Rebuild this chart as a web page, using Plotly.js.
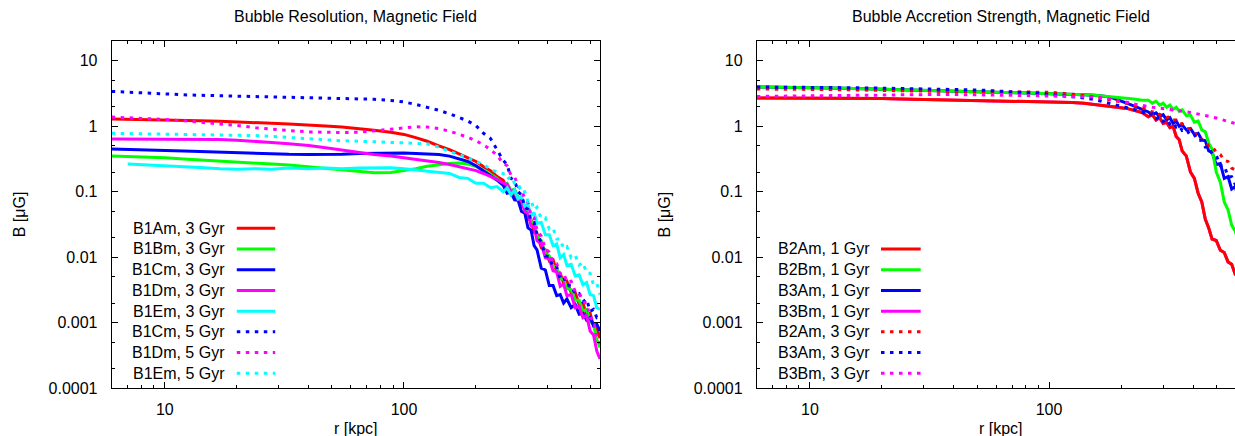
<!DOCTYPE html>
<html><head><meta charset="utf-8">
<script src="https://cdn.plot.ly/plotly-3.0.1.min.js"></script>
<style>html,body{margin:0;padding:0;overflow:hidden;background:#fff}#chart{width:1260px;height:436px}</style>
</head><body><div id="chart"></div>
<script>
// ---------- data ----------
const r = [6,7,8,9,10,12,14,17,20,24,28,33,40,47,55,65,75,88,100,112,125,140,155,170,185,200,215,230,245,
  260,270,280,290,300,310,320,330,340,350,360,375,390,405,420,435,450,465,480,500,520,540,560,580,600,620,640,660];

// Left panel: Bubble Resolution
const B1Am_3Gyr = [1.29,1.28,1.27,1.26,1.25,1.23,1.21,1.19,1.17,1.14,1.11,1.08,1.05,1.01,0.97,0.92,0.87,0.81,0.75,0.67,0.59,0.5,0.44,0.38,0.33,0.29,0.24,0.21,0.17,
  0.15,0.11,0.105,0.08,0.082,0.06,0.058,0.038,0.037,0.024,0.023,0.014,0.013,0.0088,0.0092,0.006,0.0057,0.004,0.0043,0.0029,0.0029,0.0019,0.002,0.0013,0.0014,0.0009,0.00085,0.00058];
const B1Bm_3Gyr = [0.35,0.345,0.34,0.335,0.33,0.315,0.305,0.295,0.29,0.28,0.265,0.255,0.24,0.23,0.215,0.205,0.195,0.197,0.21,0.225,0.245,0.26,0.27,0.275,0.265,0.245,0.215,0.185,0.16,
  0.13,0.135,0.105,0.11,0.082,0.08,0.056,0.052,0.035,0.033,0.021,0.018,0.0115,0.0105,0.0074,0.007,0.0047,0.0046,0.0033,0.0032,0.0022,0.0022,0.0015,0.0016,0.00105,0.00095,0.00055,0.00042];
const B1Cm_3Gyr = [0.45,0.445,0.44,0.435,0.43,0.42,0.41,0.4,0.39,0.385,0.38,0.372,0.37,0.37,0.375,0.385,0.39,0.395,0.39,0.385,0.38,0.37,0.35,0.32,0.29,0.25,0.21,0.18,0.15,
  0.125,0.095,0.098,0.075,0.074,0.05,0.047,0.028,0.026,0.015,0.013,0.0068,0.0064,0.0037,0.0037,0.0026,0.0027,0.002,0.0023,0.0017,0.0019,0.00135,0.0014,0.0011,0.0012,0.0009,0.00095,0.00075];
const B1Dm_3Gyr = [0.64,0.64,0.64,0.64,0.64,0.64,0.635,0.625,0.61,0.59,0.565,0.54,0.51,0.47,0.43,0.4,0.37,0.35,0.33,0.31,0.295,0.28,0.26,0.24,0.225,0.21,0.19,0.17,0.155,
  0.135,0.13,0.1,0.105,0.076,0.074,0.05,0.047,0.03,0.029,0.018,0.016,0.0098,0.0095,0.0062,0.006,0.0036,0.0039,0.0026,0.0027,0.0017,0.0018,0.0012,0.0013,0.00075,0.00065,0.00037,0.00028];
const B1Em_3Gyr = [null,0.265,0.26,0.255,0.25,0.24,0.235,0.225,0.22,0.225,0.22,0.23,0.225,0.23,0.225,0.23,0.23,0.232,0.225,0.215,0.21,0.2,0.19,0.165,0.16,0.135,0.135,0.115,0.12,
  0.1,0.115,0.09,0.105,0.078,0.085,0.06,0.064,0.043,0.048,0.033,0.034,0.022,0.022,0.015,0.016,0.0098,0.011,0.0075,0.0078,0.0052,0.0054,0.0038,0.0041,0.0027,0.0026,0.0017,0.0016];
const B1Cm_5Gyr = [3.4,3.3,3.22,3.16,3.1,3.02,2.97,2.93,2.9,2.85,2.8,2.76,2.72,2.69,2.66,2.63,2.58,2.48,2.35,2.15,1.95,1.75,1.55,1.35,1.2,1.02,0.78,0.65,0.43,
  0.3,0.26,0.16,0.15,0.1,0.09,0.058,0.054,0.035,0.034,0.022,0.017,0.0105,0.0102,0.007,0.0071,0.0047,0.005,0.0037,0.0038,0.0027,0.0028,0.0021,0.0023,0.0015,0.0016,0.0012,0.00125];
const B1Dm_5Gyr = [1.38,1.35,1.32,1.3,1.27,1.21,1.16,1.1,1.03,0.95,0.9,0.86,0.82,0.8,0.8,0.81,0.85,0.9,0.95,0.98,0.97,0.92,0.84,0.75,0.68,0.6,0.52,0.44,0.36,
  0.27,0.25,0.18,0.17,0.12,0.11,0.077,0.068,0.043,0.04,0.026,0.021,0.0135,0.012,0.0083,0.008,0.0056,0.0058,0.0042,0.0043,0.003,0.0029,0.0021,0.002,0.0012,0.0011,0.00062,0.00048];
const B1Em_5Gyr = [0.78,0.775,0.77,0.765,0.76,0.755,0.75,0.74,0.73,0.72,0.7,0.67,0.64,0.62,0.6,0.59,0.58,0.57,0.565,0.56,0.54,0.48,0.41,0.37,0.33,0.29,0.26,0.22,0.2,
  0.19,0.155,0.17,0.135,0.135,0.097,0.1,0.071,0.074,0.053,0.058,0.039,0.04,0.027,0.028,0.019,0.019,0.0135,0.0145,0.0098,0.0107,0.0076,0.0083,0.0058,0.0057,0.0038,0.004,0.0027];

// Right panel: Bubble Accretion Strength
const B2Am_1Gyr = [2.7,2.7,2.7,2.7,2.7,2.69,2.68,2.66,2.64,2.61,2.58,2.55,2.5,2.46,2.44,2.43,2.42,2.4,2.37,2.34,2.3,2.24,2.16,2.08,2.0,1.92,1.84,1.74,1.62,
  1.4,1.5,1.25,1.35,1.1,1.15,0.95,1.0,0.7,0.62,0.42,0.35,0.2,0.16,0.095,0.07,0.038,0.028,0.019,0.018,0.0128,0.0118,0.0085,0.0078,0.0055,0.0053,0.004,0.0039];
const B2Bm_1Gyr = [3.97,3.96,3.95,3.93,3.9,3.85,3.8,3.72,3.65,3.57,3.5,3.44,3.38,3.34,3.3,3.27,3.24,3.2,3.17,3.12,3.08,3.03,2.97,2.9,2.82,2.74,2.66,2.58,2.5,
  2.5,2.25,2.4,2.1,2.25,1.95,2.1,1.8,1.95,1.7,1.78,1.45,1.48,1.15,1.2,0.88,0.82,0.55,0.45,0.2,0.14,0.07,0.053,0.031,0.025,0.017,0.015,0.0105];
const B3Am_1Gyr = [3.97,3.96,3.95,3.93,3.9,3.85,3.8,3.72,3.65,3.57,3.5,3.44,3.38,3.34,3.3,3.27,3.24,3.2,3.17,3.12,3.08,3.03,2.97,2.88,2.7,2.45,2.2,2.0,1.82,
  1.65,1.5,1.6,1.4,1.5,1.25,1.35,1.1,1.2,1.0,1.05,0.88,0.92,0.75,0.78,0.62,0.6,0.42,0.4,0.26,0.27,0.16,0.17,0.11,0.12,0.08,0.085,0.06];
const B3Bm_1Gyr = [2.7,2.7,2.7,2.7,2.7,2.69,2.68,2.66,2.64,2.61,2.58,2.55,2.5,2.46,2.44,2.43,2.42,2.4,2.37,2.34,2.3,2.24,2.16,2.08,2.0,1.92,1.84,1.74,1.62,
  1.4,1.5,1.25,1.35,1.1,1.15,0.95,1.0,0.7,0.62,0.42,0.35,0.2,0.16,0.095,0.07,0.038,0.028,0.019,0.018,0.0128,0.0118,0.0085,0.0078,0.0055,0.0053,0.004,0.0039];
const B2Am_3Gyr = [3.7,3.7,3.69,3.68,3.67,3.64,3.61,3.56,3.5,3.46,3.43,3.41,3.39,3.38,3.37,3.36,3.35,3.34,3.3,3.2,3.1,2.95,2.8,2.65,2.5,2.35,2.2,2.05,1.9,
  1.8,1.65,1.68,1.5,1.52,1.36,1.4,1.24,1.24,1.08,1.1,0.93,0.91,0.77,0.74,0.62,0.6,0.5,0.5,0.4,0.37,0.3,0.29,0.23,0.215,0.18,0.175,0.15];
const B3Am_3Gyr = [3.97,3.97,3.96,3.95,3.93,3.9,3.88,3.85,3.82,3.78,3.74,3.7,3.65,3.6,3.52,3.42,3.32,3.2,3.05,2.95,2.85,2.7,2.55,2.35,2.2,2.05,1.9,1.78,1.65,
  1.45,1.55,1.3,1.4,1.18,1.28,1.08,1.15,0.97,1.02,0.86,0.9,0.72,0.74,0.6,0.61,0.48,0.49,0.38,0.36,0.25,0.25,0.17,0.17,0.13,0.135,0.105,0.102];
const B3Bm_3Gyr = [2.85,2.87,2.9,2.92,2.94,2.96,2.98,3.0,3.02,3.03,3.04,3.05,3.05,3.04,3.02,2.98,2.95,2.92,2.9,2.88,2.86,2.84,2.8,2.7,2.57,2.42,2.3,2.17,2.06,
  1.98,1.95,1.92,1.89,1.86,1.83,1.8,1.77,1.74,1.72,1.7,1.66,1.62,1.58,1.54,1.5,1.46,1.42,1.38,1.34,1.28,1.22,1.18,1.14,1.1,1.06,1.03,1.0];

const leftNames  = ['B1Am, 3 Gyr','B1Bm, 3 Gyr','B1Cm, 3 Gyr','B1Dm, 3 Gyr','B1Em, 3 Gyr','B1Cm, 5 Gyr','B1Dm, 5 Gyr','B1Em, 5 Gyr'];
const rightNames = ['B2Am, 1 Gyr','B2Bm, 1 Gyr','B3Am, 1 Gyr','B3Bm, 1 Gyr','B2Am, 3 Gyr','B3Am, 3 Gyr','B3Bm, 3 Gyr'];
const leftValues  = [B1Am_3Gyr,B1Bm_3Gyr,B1Cm_3Gyr,B1Dm_3Gyr,B1Em_3Gyr,B1Cm_5Gyr,B1Dm_5Gyr,B1Em_5Gyr];
const rightValues = [B2Am_1Gyr,B2Bm_1Gyr,B3Am_1Gyr,B3Bm_1Gyr,B2Am_3Gyr,B3Am_3Gyr,B3Bm_3Gyr];

const xTickVals = [10,100];
const xTickText = ['10','100'];
const xMinorVals = [7,8,9,20,30,40,50,60,70,80,90,200,300,400,500,600];
const yTickVals = [0.0001,0.001,0.01,0.1,1,10];
const yTickText = ['0.0001','0.001','0.01','0.1','1','10'];
const yMinorVals = [0.0002,0.0005,0.002,0.005,0.02,0.05,0.2,0.5,2,5];

const titles = ['Bubble Resolution, Magnetic Field','Bubble Accretion Strength, Magnetic Field'];
const xTitle = 'r [kpc]';
const yTitle = 'B [\u03bcG]';

// ---------- styles ----------
const W = 1260, H = 436;
const FONT = 'Liberation Sans, Arial, Helvetica, sans-serif';
const DOT = '3.5px,5.5px';
const leftStyle = [
  ['#ff0000','solid'],['#00ff00','solid'],['#0000ff','solid'],['#ff00ff','solid'],['#00ffff','solid'],
  ['#0000ff',DOT],['#ff00ff',DOT],['#00ffff',DOT]];
const rightStyle = [
  ['#ff0000','solid'],['#00ff00','solid'],['#0000ff','solid'],['#ff00ff','solid'],
  ['#ff0000',DOT],['#0000ff',DOT],['#ff00ff',DOT]];
const rightDrawOrder = [3,2,0,1,4,5,6];

const plotL = {x0:111.7, x1:600.0};
const plotR = {x0:756.8, x1:1245.1};
const plotTop = 41, plotBot = 388.3;

const traces = [];
leftValues.forEach((v,i)=>traces.push({x:r, y:v, xaxis:'x', yaxis:'y', type:'scatter', mode:'lines',
  name:leftNames[i], showlegend:false, connectgaps:false,
  line:{color:leftStyle[i][0], width:3, dash:leftStyle[i][1]}}));
rightDrawOrder.forEach(i=>traces.push({x:r, y:rightValues[i], xaxis:'x2', yaxis:'y2', type:'scatter', mode:'lines',
  name:rightNames[i], showlegend:false,
  line:{color:rightStyle[i][0], width:3, dash:rightStyle[i][1]}}));

function xAxis(p, anchor){
  return {type:'log', domain:[p.x0/W, p.x1/W], anchor:anchor, range:[Math.log10(6), Math.log10(660)],
    tickmode:'array', tickvals:xTickVals, ticktext:xTickText, ticks:'inside', ticklen:6, tickwidth:1, tickcolor:'#000',
    showline:true, linecolor:'#000', linewidth:1, mirror:'allticks', showgrid:false, zeroline:false,
    tickfont:{family:FONT, size:16, color:'#000'}, ticklabelstandoff:6, automargin:false, fixedrange:true,
    minor:{tickmode:'array', tickvals:xMinorVals, ticks:'inside', ticklen:3, tickwidth:1, tickcolor:'#000', showgrid:false}};
}
function yAxis(anchor){
  return {type:'log', domain:[1-plotBot/H, 1-plotTop/H], anchor:anchor, range:[-4, Math.log10(20)],
    tickmode:'array', tickvals:yTickVals, ticktext:yTickText, ticks:'inside', ticklen:6, tickwidth:1, tickcolor:'#000',
    showline:true, linecolor:'#000', linewidth:1, mirror:'allticks', showgrid:false, zeroline:false,
    tickfont:{family:FONT, size:16, color:'#000'}, ticklabelstandoff:10, automargin:false, fixedrange:true,
    minor:{tickmode:'array', tickvals:yMinorVals, ticks:'inside', ticklen:3, tickwidth:1, tickcolor:'#000', showgrid:false}};
}

const annotations = [];
const shapes = [];
const txt = (s, xpx, ypx, opts) => Object.assign({text:s, xref:'paper', yref:'paper', x:xpx/W, y:1-ypx/H,
  showarrow:false, font:{family:FONT, size:16, color:'#000'}}, opts);

[plotL, plotR].forEach((p,k)=>{
  const cx = (p.x0+p.x1)/2;
  annotations.push(txt(titles[k], cx, 6, {xanchor:'center', yanchor:'top'}));
  annotations.push(txt(xTitle, cx, 418, {xanchor:'center', yanchor:'top'}));
  annotations.push(txt(yTitle, p.x0-92, (plotTop+plotBot)/2, {xanchor:'center', yanchor:'middle', textangle:-90}));
});

function legend(names, style, textRight, lineX0, lineX1, yLast){
  const step = 20.72;
  const n = names.length;
  names.forEach((nm,i)=>{
    const y = yLast - (n-1-i)*step;
    annotations.push(txt(nm, textRight, y, {xanchor:'right', yanchor:'middle'}));
    shapes.push({type:'line', xref:'paper', yref:'paper', x0:lineX0/W, x1:lineX1/W, y0:1-y/H, y1:1-y/H,
      line:{color:style[i][0], width:3, dash:style[i][1]}});
  });
}
legend(leftNames, leftStyle, 226.5, 236.8, 275.2, 373.3);
legend(rightNames, rightStyle, 872.4, 881.0, 920.7, 373.3);

const layout = {
  width:W, height:H, margin:{l:0,r:0,t:0,b:0,pad:0}, paper_bgcolor:'#fff', plot_bgcolor:'#fff',
  showlegend:false, font:{family:FONT, size:16, color:'#000'},
  xaxis:xAxis(plotL,'y'), yaxis:yAxis('x'), xaxis2:xAxis(plotR,'y2'), yaxis2:yAxis('x2'),
  annotations:annotations, shapes:shapes
};
Plotly.newPlot('chart', traces, layout, {staticPlot:true, displayModeBar:false});
</script></body></html>
